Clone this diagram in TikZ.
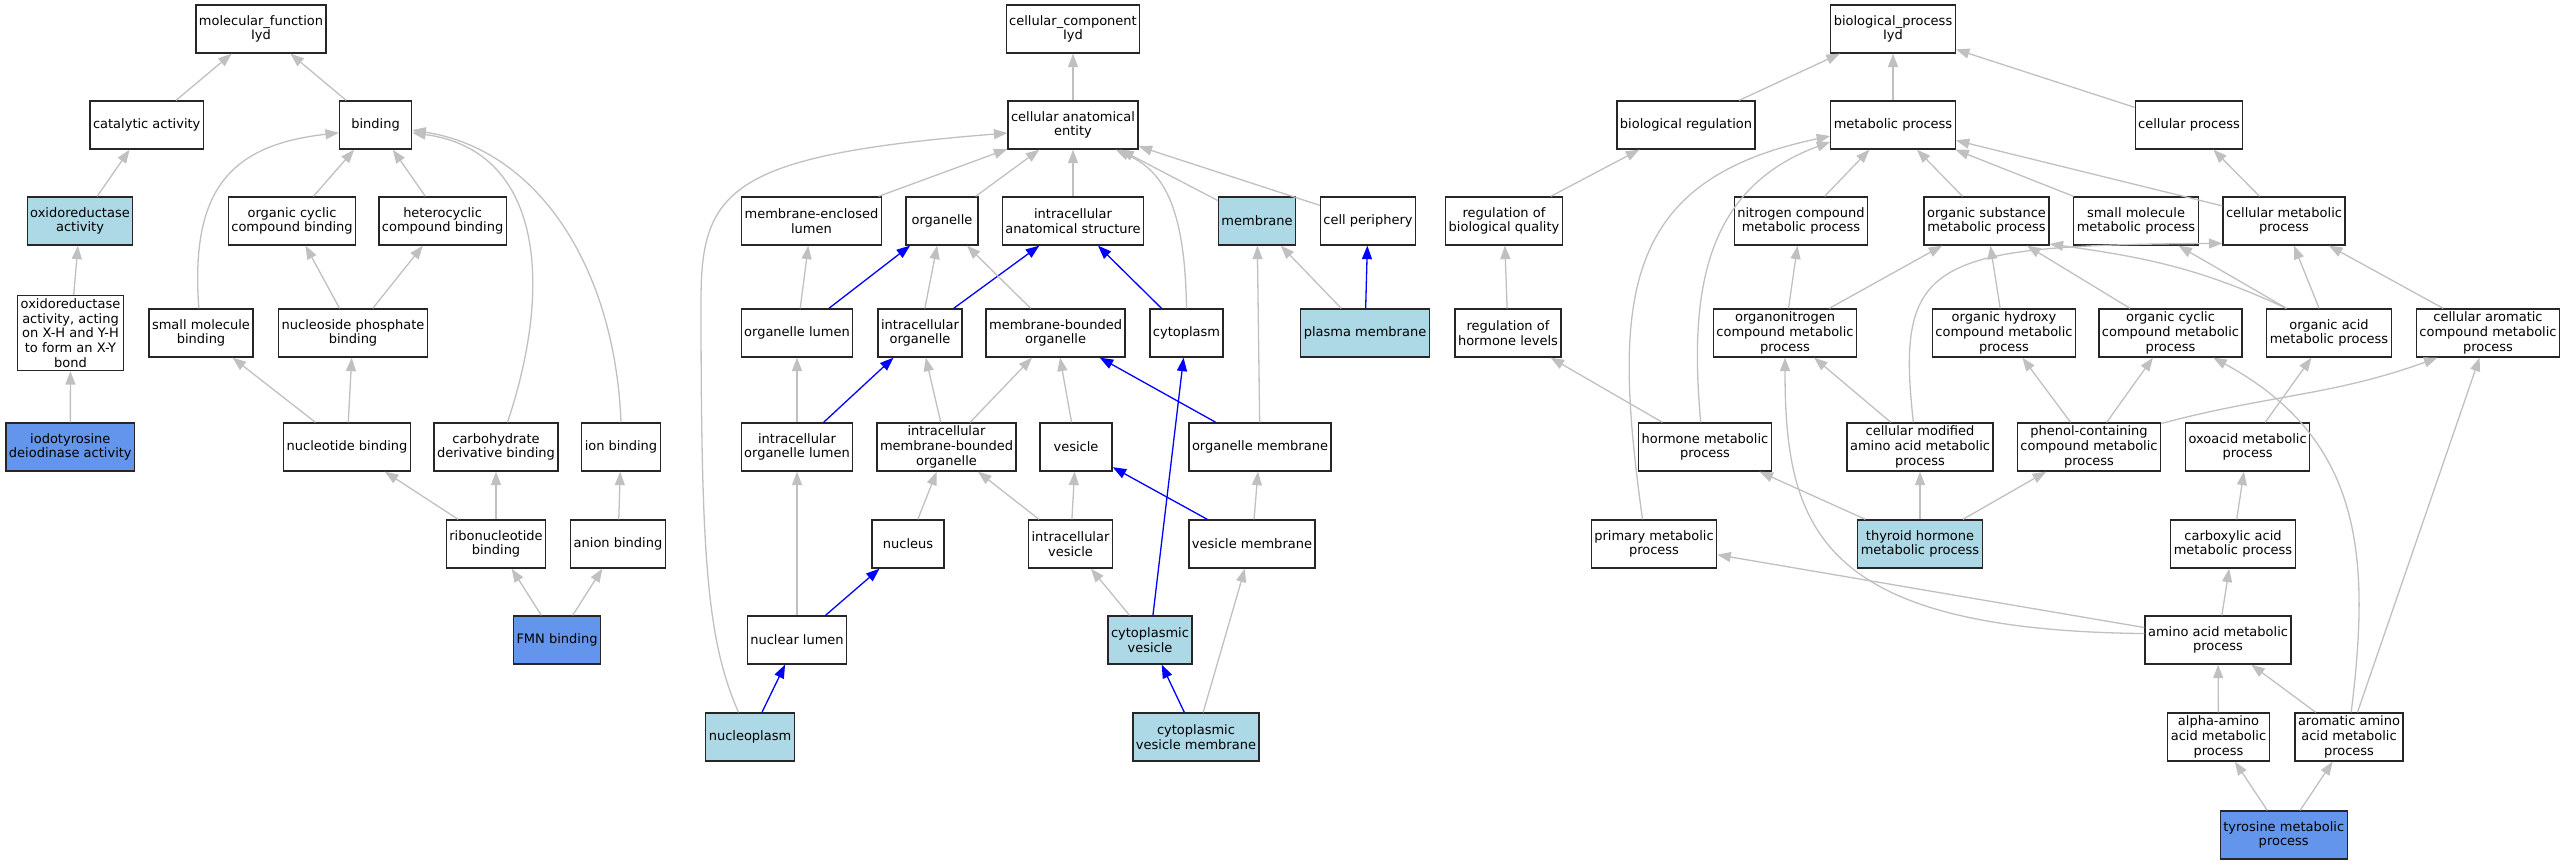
\documentclass[tikz,border=0pt]{standalone}
\usepackage{fontspec}
\setmainfont{DejaVu Sans}
\usetikzlibrary{arrows.meta}
\definecolor{edgegray}{RGB}{192,192,192}
\definecolor{hitblue}{RGB}{173,216,230}
\definecolor{queryblue}{RGB}{100,149,237}
\newcommand{\gofont}{\fontsize{13pt}{14.7pt}\selectfont}

\begin{document}
\begin{tikzpicture}[x=1pt,y=-1pt,
	term/.style={draw=black!85, line width=1.3pt, fill=white, inner xsep=3pt, inner ysep=3pt, minimum width=72pt, minimum height=48pt, align=center, font=\gofont},
	hit/.style={term, fill=hitblue},
	query/.style={term, fill=queryblue},
	isa/.style={draw=edgegray, line width=1.3pt, -{Triangle[length=13.5pt,width=10pt]}},
	part/.style={draw=blue, line width=1.3pt, -{Triangle[length=13.5pt,width=10pt]}}]
	\useasboundingbox (0,0) rectangle (2565,864);
	\draw (261,29) node[term] (mf) {molecular\_function\\Iyd};
	\draw (146.7,125) node[term] (catact) {catalytic activity};
	\draw (375.6,125) node[term] (binding) {binding};
	\draw (80,221) node[hit] (oxred) {oxidoreductase\\activity};
	\draw (292,221) node[term] (occb) {organic cyclic\\compound binding};
	\draw (442.6,221) node[term] (hccb) {heterocyclic\\compound binding};
	\draw (70.5,333) node[term] (oxact) {oxidoreductase\\activity, acting\\on X-H and Y-H\\to form an X-Y\\bond};
	\draw (201,333) node[term] (smb) {small molecule\\binding};
	\draw (353,333) node[term] (npb) {nucleoside phosphate\\binding};
	\draw (70.3,447) node[query] (iodo) {iodotyrosine\\deiodinase activity};
	\draw (347,447) node[term] (ntb) {nucleotide binding};
	\draw (496,447) node[term] (cdb) {carbohydrate\\derivative binding};
	\draw (621,447) node[term] (ionb) {ion binding};
	\draw (496,544) node[term] (rnb) {ribonucleotide\\binding};
	\draw (618,544) node[term] (anb) {anion binding};
	\draw (557,640) node[query] (fmn) {FMN binding};
	\draw (catact) edge[isa] (mf);
	\draw (binding) edge[isa] (mf);
	\draw (oxred) edge[isa] (catact);
	\draw (oxact) edge[isa] (oxred);
	\draw (iodo) edge[isa] (oxact);
	\draw (occb) edge[isa] (binding);
	\draw (hccb) edge[isa] (binding);
	\draw[isa] (smb.95) .. controls (190,190) and (230,145) .. (binding.192);
	\draw (npb) edge[isa] (occb);
	\draw (npb) edge[isa] (hccb);
	\draw (ntb) edge[isa] (smb);
	\draw (ntb) edge[isa] (npb);
	\draw[isa] (cdb.65) .. controls (555,280) and (540,150) .. (binding.-12);
	\draw[isa] (ionb.north) .. controls (615,270) and (540,150) .. (binding.-8);
	\draw (rnb) edge[isa] (ntb);
	\draw (rnb) edge[isa] (cdb);
	\draw (anb) edge[isa] (ionb);
	\draw (fmn) edge[isa] (rnb);
	\draw (fmn) edge[isa] (anb);

	\draw (1073,29) node[term] (cc) {cellular\_component\\Iyd};
	\draw (1073,125) node[term] (cae) {cellular anatomical\\entity};
	\draw (811.5,221) node[term] (mel) {membrane-enclosed\\lumen};
	\draw (942,221) node[term] (organelle) {organelle};
	\draw (1073,221) node[term] (ias) {intracellular\\anatomical structure};
	\draw (1257,221) node[hit] (membrane) {membrane};
	\draw (1368,221) node[term] (cellper) {cell periphery};
	\draw (797,333) node[term] (orglum) {organelle lumen};
	\draw (920,333) node[term] (intorg) {intracellular\\organelle};
	\draw (1055.6,333) node[term] (mbo) {membrane-bounded\\organelle};
	\draw (1186.5,333) node[term] (cytoplasm) {cytoplasm};
	\draw (1365,333) node[hit] (plasmem) {plasma membrane};
	\draw (797,447) node[term] (iol) {intracellular\\organelle lumen};
	\draw (946.5,447) node[term] (imbo) {intracellular\\membrane-bounded\\organelle};
	\draw (1076,447) node[term] (vesicle) {vesicle};
	\draw (1260,447) node[term] (orgmem) {organelle membrane};
	\draw (908,544) node[term] (nucleus) {nucleus};
	\draw (1070.5,544) node[term] (intves) {intracellular\\vesicle};
	\draw (1252,544) node[term] (vesmem) {vesicle membrane};
	\draw (797,640) node[term] (nuclum) {nuclear lumen};
	\draw (1150,640) node[hit] (cytves) {cytoplasmic\\vesicle};
	\draw (750,737) node[hit] (nucleoplasm) {nucleoplasm};
	\draw (1196,737) node[hit] (cvm) {cytoplasmic\\vesicle membrane};
	\draw (cae) edge[isa] (cc);
	\draw (mel) edge[isa] (cae);
	\draw (organelle) edge[isa] (cae);
	\draw (ias) edge[isa] (cae);
	\draw (membrane) edge[isa] (cae);
	\draw (cellper) edge[isa] (cae);
	\draw[isa] (cytoplasm.north) .. controls (1185,200) and (1160,170) .. (cae.-30);
	\draw[isa] (nucleoplasm.115) .. controls (707,640) and (701,560) .. (701,300) .. controls (701,190) and (730,155) .. (cae.187);
	\draw (orglum) edge[isa] (mel);
	\draw (orglum) edge[part] (organelle);
	\draw (intorg) edge[isa] (organelle);
	\draw (intorg) edge[part] (ias);
	\draw (mbo) edge[isa] (organelle);
	\draw (cytoplasm) edge[part] (ias);
	\draw (plasmem) edge[isa] (membrane);
	\draw (plasmem) edge[part] (cellper);
	\draw (iol) edge[isa] (orglum);
	\draw (iol) edge[part] (intorg);
	\draw (imbo) edge[isa] (intorg);
	\draw (imbo) edge[isa] (mbo);
	\draw (vesicle) edge[isa] (mbo);
	\draw (orgmem) edge[part] (mbo);
	\draw (orgmem) edge[isa] (membrane);
	\draw (nucleus) edge[isa] (imbo);
	\draw (intves) edge[isa] (imbo);
	\draw (intves) edge[isa] (vesicle);
	\draw (vesmem) edge[part] (vesicle);
	\draw (vesmem) edge[isa] (orgmem);
	\draw (nuclum) edge[isa] (iol);
	\draw (nuclum) edge[part] (nucleus);
	\draw (cytves) edge[isa] (intves);
	\draw (cytves) edge[part] (cytoplasm);
	\draw (nucleoplasm) edge[part] (nuclum);
	\draw (cvm) edge[part] (cytves);
	\draw (cvm) edge[isa] (vesmem);

	\draw (1893,29) node[term] (bp) {biological\_process\\Iyd};
	\draw (1686,125) node[term] (bioreg) {biological regulation};
	\draw (1893,125) node[term] (mp) {metabolic process};
	\draw (2189,125) node[term] (cellp) {cellular process};
	\draw (1504,221) node[term] (rbq) {regulation of\\biological quality};
	\draw (1801,221) node[term] (ncmp) {nitrogen compound\\metabolic process};
	\draw (1986.5,221) node[term] (osmp) {organic substance\\metabolic process};
	\draw (2136,221) node[term] (smmp) {small molecule\\metabolic process};
	\draw (2284,221) node[term] (cmp) {cellular metabolic\\process};
	\draw (1508,333) node[term] (rhl) {regulation of\\hormone levels};
	\draw (1785,333) node[term] (onmp) {organonitrogen\\compound metabolic\\process};
	\draw (2004,333) node[term] (ohmp) {organic hydroxy\\compound metabolic\\process};
	\draw (2170.5,333) node[term] (ocmp) {organic cyclic\\compound metabolic\\process};
	\draw (2329,333) node[term] (oamp) {organic acid\\metabolic process};
	\draw (2488,333) node[term] (camp) {cellular aromatic\\compound metabolic\\process};
	\draw (1705,447) node[term] (hmp) {hormone metabolic\\process};
	\draw (1920,447) node[term] (cmaa) {cellular modified\\amino acid metabolic\\process};
	\draw (2089,447) node[term] (pcmp) {phenol-containing\\compound metabolic\\process};
	\draw (2247.6,447) node[term] (oxmp) {oxoacid metabolic\\process};
	\draw (1654,544) node[term] (pmp) {primary metabolic\\process};
	\draw (1920,544) node[hit] (thmp) {thyroid hormone\\metabolic process};
	\draw (2233,544) node[term] (cxmp) {carboxylic acid\\metabolic process};
	\draw (2218,640) node[term] (aamp) {amino acid metabolic\\process};
	\draw (2218.5,737) node[term] (alpha) {alpha-amino\\acid metabolic\\process};
	\draw (2349,737) node[term] (aromaa) {aromatic amino\\acid metabolic\\process};
	\draw (2283.7,835) node[query] (tyr) {tyrosine metabolic\\process};
	\draw (bioreg) edge[isa] (bp);
	\draw (mp) edge[isa] (bp);
	\draw (cellp) edge[isa] (bp);
	\draw (rbq) edge[isa] (bioreg);
	\draw (ncmp) edge[isa] (mp);
	\draw (osmp) edge[isa] (mp);
	\draw (smmp) edge[isa] (mp);
	\draw (cmp) edge[isa] (mp);
	\draw (cmp) edge[isa] (cellp);
	\draw[isa] (hmp.100) .. controls (1690,300) and (1700,190) .. (mp.195);
	\draw[isa] (pmp.115) .. controls (1612,300) and (1620,180) .. (mp.190);
	\draw (rhl) edge[isa] (rbq);
	\draw (onmp) edge[isa] (ncmp);
	\draw (onmp) edge[isa] (osmp);
	\draw (ohmp) edge[isa] (osmp);
	\draw (ocmp) edge[isa] (osmp);
	\draw (oamp.150) edge[isa, out=155, in=-8] (osmp.-20);
	\draw (oamp) edge[isa] (smmp);
	\draw (oamp) edge[isa] (cmp);
	\draw (camp) edge[isa] (cmp);
	\draw[isa] (cmaa.105) .. controls (1895,260) and (1930,245) .. (cmp.200);
	\draw (cmaa) edge[isa] (onmp);
	\draw (hmp) edge[isa] (rhl);
	\draw (pcmp) edge[isa] (ohmp);
	\draw (pcmp) edge[isa] (ocmp);
	\draw (pcmp.18) edge[isa, out=15, in=200] (camp.206);
	\draw (oxmp) edge[isa] (oamp);
	\draw (thmp) edge[isa] (hmp);
	\draw (thmp) edge[isa] (cmaa);
	\draw (thmp) edge[isa] (pcmp);
	\draw (cxmp) edge[isa] (oxmp);
	\draw (aamp) edge[isa] (pmp);
	\draw[isa] (aamp.175) .. controls (1820,630) and (1785,530) .. (onmp.south);
	\draw (aamp) edge[isa] (cxmp);
	\draw (alpha) edge[isa] (aamp);
	\draw (aromaa) edge[isa] (aamp);
	\draw[isa] (aromaa.85) .. controls (2370,560) and (2365,440) .. (ocmp.-30);
	\draw (aromaa) edge[isa] (camp);
	\draw (tyr) edge[isa] (alpha);
	\draw (tyr) edge[isa] (aromaa);
\end{tikzpicture}
\end{document}
